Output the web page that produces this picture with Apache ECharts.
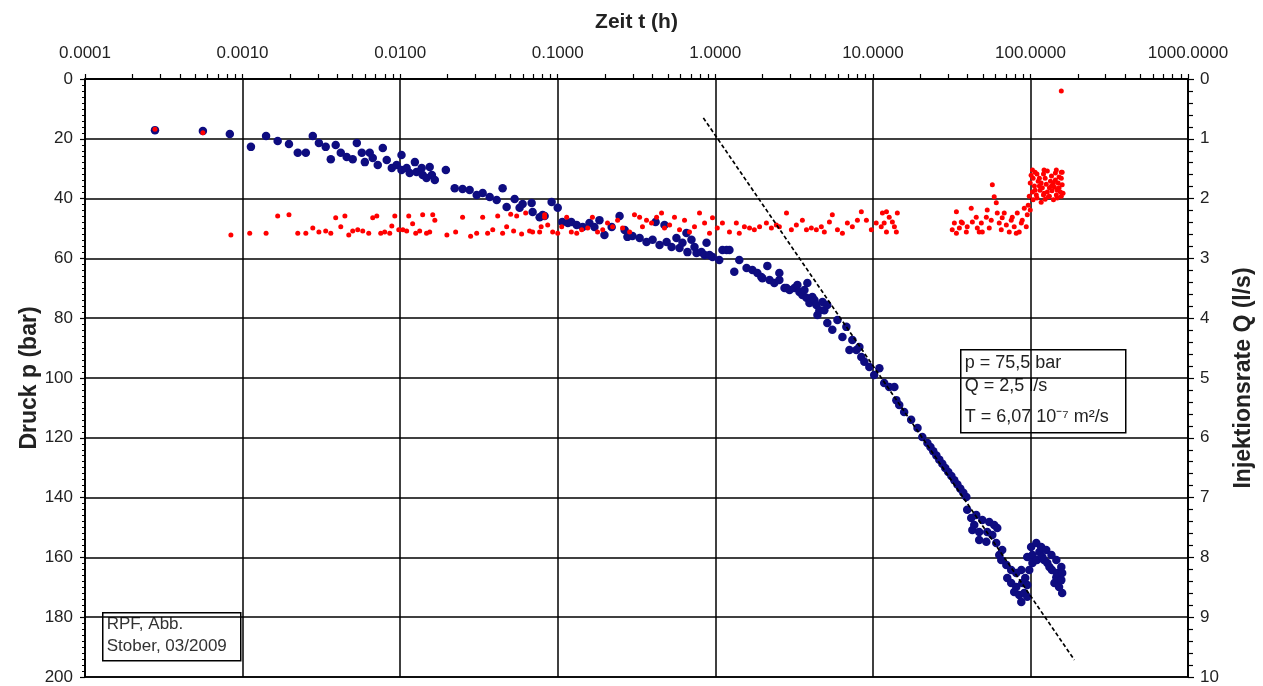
<!DOCTYPE html>
<html>
<head>
<meta charset="utf-8">
<script src="https://cdn.jsdelivr.net/npm/echarts@6/dist/echarts.min.js"></script>
<style>
html,body{margin:0;padding:0;background:#fff;}
#chart{width:1263px;height:686px;}
</style>
</head>
<body>
<div id="chart"></div>
<script>
// ---- tick labels ----
const xTickLabels = ['0.0001','0.0010','0.0100','0.1000','1.0000','10.0000','100.0000','1000.0000'];
const xMinorMantissas = [1,2,3,4,5,6,7,8,9];
const xDecadeExponents = [-4,-3,-2,-1,0,1,2];

// ---- pressure (blue), time in h, pressure in bar ----
const pressureTime = [
0.000278,0.00056,0.00083,0.00113,0.00141,0.00167,0.00197,0.00224,0.00252,0.00279,
0.00305,0.00337,0.00363,0.0039,0.0042,0.00458,0.0050,0.00531,0.00571,0.00597,
0.00641,0.0067,0.00721,0.00776,0.00822,0.00885,0.0095,0.0102,0.0102,0.011,
0.0115,0.0124,0.0127,0.0137,0.0139,0.0147,0.0154,0.0159,0.0166,0.0195,
0.0222,0.0249,0.0276,0.0306,0.0334,0.037,0.041,0.0447,0.0474,0.0533,
0.0573,0.0599,0.0683,0.0693,0.0768,0.0802,0.0826,0.0915,0.1,0.107,
0.116,0.122,0.132,0.144,0.159,0.171,0.184,0.198,0.22,0.247,
0.266,0.277,0.298,0.331,0.366,0.40,0.418,0.443,0.476,0.491,
0.528,0.567,0.593,0.619,0.656,0.666,0.706,0.738,0.76,0.817,
0.855,0.88,0.919,0.96,1.06,1.11,1.18,1.23,1.32,1.42,
1.58,1.72,1.85,1.96,1.99,2.14,2.21,2.37,2.55,2.55,
2.75,2.83,2.96,3.18,3.32,3.42,3.57,3.68,3.79,3.84,
3.96,4.13,4.26,4.38,4.45,4.58,4.79,4.92,5.14,5.14,
5.53,5.96,6.41,6.79,7.1,7.41,7.86,8.21,8.45,8.83,
9.5,10.2,11.0,11.8,12.7,13.7,14.1,14.7,15.8,17.5,
19.2,20.6,22.2,23.2,24.2,25.3,26.4,27.6,28.8,30.1,
31.5,32.9,34.4,35.9,37.5,39.2,39.7,42.1,42.8,44,
45.3,47.3,47.3,49.5,52.5,53.2,54.8,57.3,58.9,60.7,
61.6,63.4,65.3,66.2,70.3,71.3,75.5,75.5,78.9,81.3,
81.3,84.9,87.5,87.5,88.7,91.4,92.7,95.5,95.5,95.5,
98.3,101,103,103,109,110,114,117,119,122,
126,128,132,136,137,142,146,146,148,152,
157,157,159,159
];
const pressureBar = [
17.1,17.4,18.4,22.7,19.1,20.7,21.7,24.7,24.7,19.1,
21.4,22.7,26.8,22.1,24.7,26.1,26.8,21.4,24.7,27.8,
24.7,26.4,28.8,23.1,27.1,29.8,28.8,25.4,30.4,29.8,
31.4,27.8,31.1,29.8,32.1,33.1,29.4,32.1,33.8,30.4,
36.5,36.8,37.1,38.8,38.1,39.5,40.5,36.5,42.8,40.1,
43.1,41.8,41.5,44.5,46.2,45.5,45.8,41.1,43.1,47.8,
48.2,47.8,48.8,49.5,48.2,49.5,47.2,52.2,49.5,45.8,
50.5,52.8,52.5,53.2,54.5,53.8,47.8,55.5,48.8,54.5,
56.2,53.2,56.5,54.8,51.5,57.9,53.8,56.2,58.2,57.9,
58.9,54.8,58.9,59.5,60.5,57.2,57.2,57.2,64.5,60.5,
63.2,63.9,64.9,66.2,66.6,62.5,67.2,68.2,67.2,64.9,
69.9,69.9,70.6,69.9,68.9,71.2,72.2,70.6,73.2,68.2,
74.9,72.9,73.9,75.6,78.9,77.3,74.6,77.3,81.6,75.6,
83.9,80.6,86.3,82.9,90.6,87.3,90.6,89.6,93.0,94.6,
96.3,99.0,96.7,101.7,103.0,103.0,107.4,109.0,111.4,114.0,
116.7,119.7,121.7,123.1,124.5,125.9,127.3,128.7,130.1,131.4,
132.8,134.2,135.6,137.0,138.4,139.8,144.1,146.8,150.8,149.2,
145.8,151.5,154.2,147.5,154.8,151.5,148.2,152.5,149.2,155.2,
150.2,159.2,160.9,157.5,162.5,166.9,164.2,168.6,171.6,165.2,
169.9,172.6,164.2,174.9,168.6,171.9,166.9,173.2,169.2,159.9,
164.2,156.5,159.2,161.9,155.2,160.9,158.2,156.5,159.9,160.9,
157.5,161.9,163.2,159.2,164.2,168.6,160.9,166.6,165.2,169.9,
163.2,167.6,165.2,171.9
];

// ---- injection rate (red), time in h, rate in l/s ----
const rateTime = [
0.000278,0.00056,0.000843,0.00111,0.00141,0.00167,0.00197,0.00224,0.00252,0.00279,
0.00305,0.00337,0.00363,0.0039,0.0042,0.00446,0.00472,0.0050,0.00538,0.00579,
0.00632,0.0067,0.00711,0.00753,0.00798,0.00859,0.00885,0.00925,0.0098,0.0104,
0.011,0.01134,0.012,0.01256,0.0133,0.0139,0.0147,0.0154,0.0161,0.0166,
0.0198,0.0225,0.0249,0.028,0.0306,0.0334,0.0359,0.0387,0.0416,0.0447,
0.0474,0.0503,0.0525,0.0549,0.059,0.0626,0.0663,0.0693,0.0768,0.0785,
0.0826,0.0826,0.0864,0.0929,0.1,0.106,0.114,0.122,0.132,0.142,
0.155,0.166,0.179,0.193,0.207,0.223,0.24,0.258,0.286,0.307,
0.331,0.345,0.366,0.394,0.424,0.456,0.476,0.513,0.551,0.593,
0.638,0.686,0.738,0.794,0.855,0.919,0.96,1.03,1.11,1.23,
1.36,1.42,1.53,1.65,1.77,1.91,2.11,2.27,2.44,2.55,
2.83,3.04,3.27,3.57,3.79,4.07,4.38,4.71,4.92,5.3,
5.53,5.96,6.41,6.89,7.41,7.98,8.45,9.1,9.78,10.5,
11.3,11.5,11.8,12.2,12.2,12.7,13.3,13.7,14.1,14.3,
31.9,32.9,33.9,33.9,35.4,36.4,37.0,39.2,39.7,42.1,
42.8,45.3,46.0,47.3,48.8,49.5,52.5,53.2,54.8,56.4,
57.3,58.9,60.7,61.6,63.4,65.3,66.2,68.2,70.3,73.4,
75.5,76.7,78.9,81.3,82.5,84.9,87.5,88.7,91.4,94.1,
95.5,96.8,98.3,99.7,99.7,101,103,103,104,104,
106,107,107,109,110,110,112,114,114,115,
117,117,119,121,121,122,122,124,124,126,
128,128,130,132,132,134,136,136,137,140,
140,142,144,144,146,146,148,148,150,152,
152,155,157,157,157,159,159,161,157
];
const rateLs = [
0.84,0.90,2.61,2.58,2.58,2.29,2.27,2.58,2.58,2.49,
2.56,2.54,2.58,2.32,2.47,2.29,2.61,2.54,2.52,2.54,
2.58,2.32,2.29,2.58,2.56,2.58,2.46,2.29,2.52,2.52,
2.54,2.29,2.42,2.58,2.54,2.27,2.58,2.56,2.27,2.36,
2.61,2.56,2.31,2.63,2.58,2.31,2.58,2.52,2.29,2.58,
2.47,2.26,2.54,2.29,2.59,2.24,2.54,2.56,2.56,2.47,
2.27,2.31,2.44,2.56,2.58,2.47,2.31,2.56,2.58,2.52,
2.49,2.31,2.56,2.52,2.41,2.47,2.36,2.49,2.56,2.27,
2.31,2.47,2.36,2.41,2.31,2.24,2.49,2.44,2.31,2.52,
2.36,2.56,2.47,2.24,2.41,2.58,2.32,2.49,2.41,2.56,
2.41,2.58,2.47,2.49,2.52,2.47,2.41,2.49,2.44,2.47,
2.24,2.52,2.44,2.36,2.52,2.49,2.52,2.47,2.56,2.39,
2.27,2.52,2.58,2.41,2.47,2.36,2.22,2.36,2.52,2.41,
2.47,2.24,2.41,2.22,2.56,2.31,2.39,2.47,2.56,2.24,
2.52,2.41,2.22,2.58,2.49,2.39,2.41,2.56,2.47,2.16,
2.39,2.31,2.49,2.56,2.41,2.56,2.31,2.19,2.49,2.36,
1.77,1.97,2.07,2.24,2.41,2.52,2.32,2.24,2.44,2.56,
2.36,2.31,2.47,2.58,2.24,2.56,2.41,2.36,2.16,2.47,
2.27,2.11,1.96,1.74,2.19,1.61,1.89,1.52,2.02,1.66,
1.79,1.56,1.86,1.94,1.99,1.59,1.71,1.66,1.79,1.86,
2.06,1.74,1.82,1.59,1.94,1.91,1.52,2.01,1.66,1.76,
1.54,1.89,1.97,1.96,1.82,1.71,1.62,1.79,1.87,2.02,
1.74,1.81,1.57,1.69,1.94,1.52,1.99,1.86,1.74,1.64,
1.82,1.89,1.96,1.66,1.56,1.77,1.56,1.91,0.20
];

// ---- straight-line fit (dashed) ----
const fitTime = [0.84, 190];
const fitBar = [13.0, 194.3];

const zip = (a, b) => a.map((v, i) => [v, b[i]]);
const minorTickPositions = [];
xDecadeExponents.forEach(e => xMinorMantissas.forEach(m => minorTickPositions.push(Math.log10(m) + e)));
minorTickPositions.push(3);

const FONT = "'Liberation Sans', Arial, sans-serif";
const chart = echarts.init(document.getElementById('chart'));
chart.setOption({
  animation: false,
  backgroundColor: '#ffffff',
  grid: {left: 85, right: 73, top: 79, bottom: 9, show: true, borderColor: '#000', borderWidth: 1.5, backgroundColor: 'transparent'},
  xAxis: [{
    type: 'log', logBase: 10, position: 'top', min: 0.0001, max: 1000, splitNumber: 7,
    name: 'Zeit t (h)', nameLocation: 'middle', nameGap: 46, nameMoveOverlap: false,
    nameTextStyle: {fontFamily: FONT, fontSize: 21, fontWeight: 'bold', color: '#222'},
    axisLine: {show: true, onZero: false, lineStyle: {color: '#000', width: 1.5}},
    axisTick: {show: false},
    axisLabel: {margin: 17, fontFamily: FONT, fontSize: 17, color: '#222',
      formatter: v => { const i = Math.round(Math.log10(v)) + 4; return xTickLabels[i]; }},
    splitLine: {show: true, lineStyle: {color: '#000', width: 1.5}}
  }, {
    type: 'value', position: 'top', min: -4, max: 3,
    axisLine: {show: false, onZero: false},
    axisTick: {show: true, length: 5, customValues: minorTickPositions, lineStyle: {color: '#000', width: 1.2}},
    axisLabel: {show: false},
    splitLine: {show: false}
  }],
  yAxis: [{
    type: 'value', min: 0, max: 200, interval: 20, inverse: true,
    name: 'Druck p (bar)', nameLocation: 'middle', nameGap: 44, nameRotate: 90, nameMoveOverlap: false,
    nameTextStyle: {fontFamily: FONT, fontSize: 23, fontWeight: 'bold', color: '#222'},
    axisLine: {show: true, onZero: false, lineStyle: {color: '#000', width: 1.5}},
    axisTick: {show: true, length: 5, lineStyle: {color: '#000', width: 1.2}},
    minorTick: {show: true, splitNumber: 10, length: 3, lineStyle: {color: '#000', width: 1}},
    axisLabel: {margin: 12, fontFamily: FONT, fontSize: 17, color: '#222'},
    splitLine: {show: true, lineStyle: {color: '#000', width: 1.5}}
  }, {
    type: 'value', min: 0, max: 10, interval: 1, inverse: true, position: 'right',
    name: 'Injektionsrate Q (l/s)', nameLocation: 'middle', nameGap: 44, nameRotate: 90,
    nameTextStyle: {fontFamily: FONT, fontSize: 23, fontWeight: 'bold', color: '#222'},
    axisLine: {show: true, onZero: false, lineStyle: {color: '#000', width: 1.5}},
    axisTick: {show: true, length: 6, lineStyle: {color: '#000', width: 1.2}},
    minorTick: {show: true, splitNumber: 5, length: 5, lineStyle: {color: '#000', width: 1.2}},
    axisLabel: {margin: 12, fontFamily: FONT, fontSize: 17, color: '#222'},
    splitLine: {show: false}
  }],
  series: [{
    type: 'scatter', xAxisIndex: 0, yAxisIndex: 0, data: zip(pressureTime, pressureBar),
    symbol: 'circle', symbolSize: 8.5, itemStyle: {color: '#0e0c80', opacity: 1}, z: 2
  }, {
    type: 'scatter', xAxisIndex: 0, yAxisIndex: 1, data: zip(rateTime, rateLs),
    symbol: 'circle', symbolSize: 5, itemStyle: {color: '#ff0000', opacity: 1}, z: 3
  }, {
    type: 'line', xAxisIndex: 0, yAxisIndex: 0, data: zip(fitTime, fitBar),
    symbol: 'none', lineStyle: {color: '#000', width: 1.7, type: [4, 2.5]}, z: 4
  }],
  graphic: [{
    type: 'group', left: 960, top: 349, z: 10,
    children: [
      {type: 'rect', shape: {x: 0, y: 0, width: 165, height: 83}, style: {fill: '#fff', stroke: '#000', lineWidth: 1.5}},
      {type: 'text', x: 4, y: 4, style: {text: 'p = 75,5 bar', font: "18px " + FONT, fill: '#222'}},
      {type: 'text', x: 4, y: 27, style: {text: 'Q = 2,5 l/s', font: "18px " + FONT, fill: '#222'}},
      {type: 'text', x: 4, y: 58, style: {text: 'T = 6,07 10⁻⁷ m²/s', font: "18px " + FONT, fill: '#222'}}
    ]
  }, {
    type: 'group', left: 102, top: 612, z: 10,
    children: [
      {type: 'rect', shape: {x: 0, y: 0, width: 138, height: 48}, style: {fill: '#fff', stroke: '#000', lineWidth: 1.5}},
      {type: 'text', x: 4, y: 3, style: {text: 'RPF, Abb.', font: "17px " + FONT, fill: '#333'}},
      {type: 'text', x: 4, y: 25, style: {text: 'Stober, 03/2009', font: "17px " + FONT, fill: '#333'}}
    ]
  }]
});
</script>
</body>
</html>
